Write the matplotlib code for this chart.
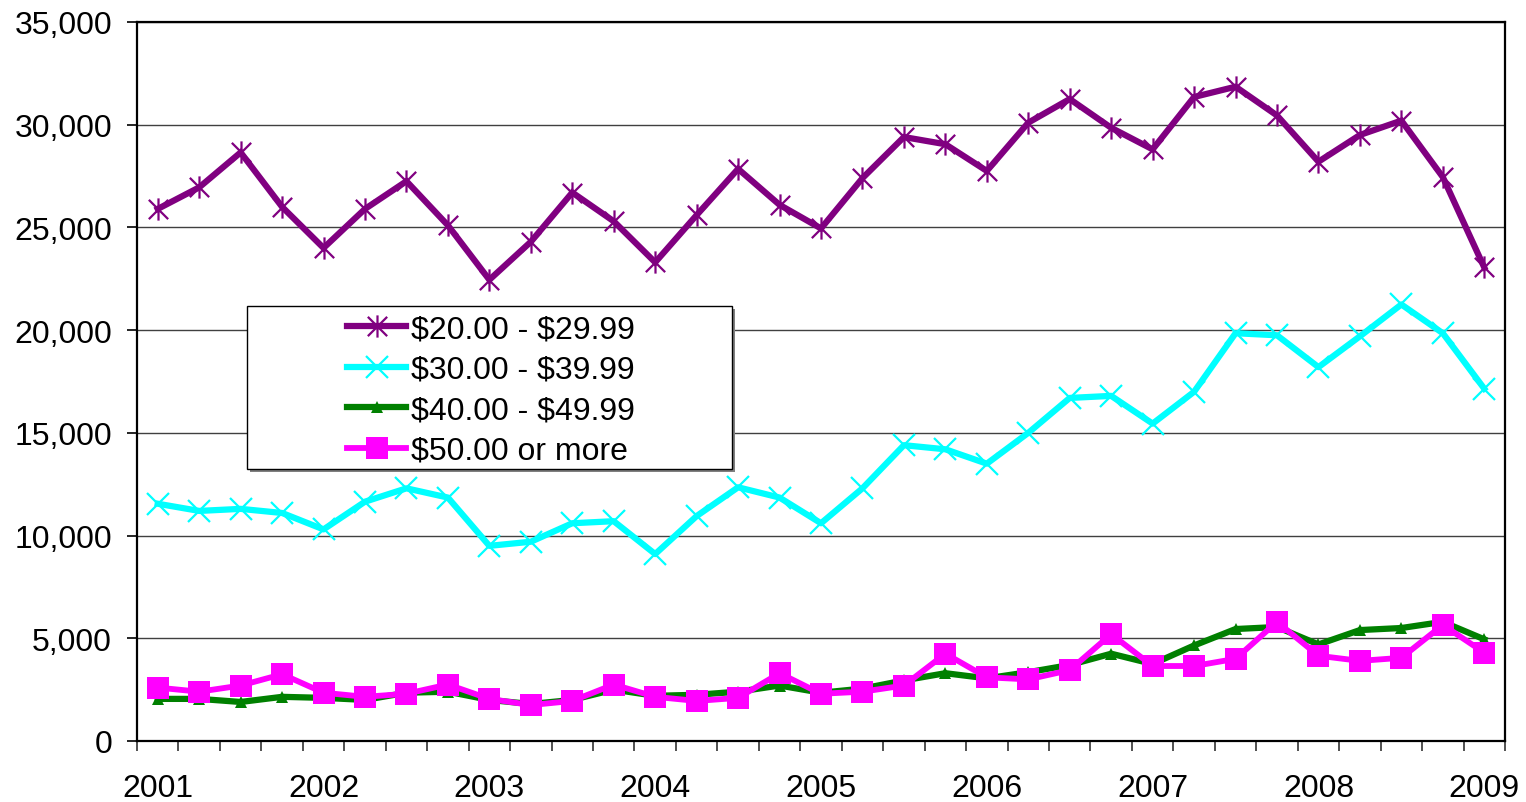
import matplotlib
matplotlib.use("Agg")
import matplotlib.pyplot as plt
from matplotlib.path import Path
from matplotlib.patches import Rectangle
from matplotlib.ticker import FuncFormatter, FixedLocator

plt.rcParams['font.family'] = ['Liberation Sans', 'DejaVu Sans']

years = ["2001", "2002", "2003", "2004", "2005", "2006", "2007", "2008", "2009"]

s20 = [25900, 26950, 28650, 26000, 24000, 25900, 27250, 25100, 22450, 24300,
       26700, 25300, 23300, 25600, 27850, 26100, 24950, 27400, 29400, 29050,
       27750, 30100, 31250, 29850, 28800, 31350, 31850, 30450, 28200, 29500,
       30200, 27450, 23050]
s30 = [11550, 11200, 11300, 11100, 10300, 11650, 12300, 11850, 9500, 9700,
       10600, 10700, 9100, 10950, 12350, 11850, 10600, 12300, 14400, 14200,
       13500, 15000, 16700, 16800, 15450, 17000, 19850, 19750, 18200, 19700,
       21250, 19850, 17150]
s40 = [2050, 2050, 1900, 2150, 2100, 2000, 2350, 2400, 2000, 1800,
       2000, 2500, 2200, 2250, 2400, 2700, 2350, 2550, 2950, 3300,
       3050, 3350, 3700, 4250, 3750, 4650, 5450, 5550, 4700, 5400,
       5500, 5800, 4950]
s50 = [2600, 2400, 2700, 3250, 2350, 2150, 2300, 2750, 2050, 1750,
       1950, 2750, 2150, 1950, 2100, 3300, 2300, 2400, 2700, 4250,
       3100, 3000, 3450, 5200, 3650, 3650, 4000, 5800, 4150, 3900,
       4050, 5650, 4300]

labels = [r"\$20.00 - \$29.99", r"\$30.00 - \$39.99", r"\$40.00 - \$49.99", r"\$50.00 or more"]

W, H = 1526, 803
fig = plt.figure(figsize=(W / 100, H / 100), dpi=100)
L, R, T, B = 137, 1505, 23, 742
ax = fig.add_axes([L / W, 1 - B / H, (R - L) / W, (B - T) / H])

x = list(range(len(s20)))

star = Path([(-1, -1), (1, 1), (-1, 1), (1, -1), (0, -1.15), (0, 1.15)],
            [Path.MOVETO, Path.LINETO, Path.MOVETO, Path.LINETO, Path.MOVETO, Path.LINETO])

ax.plot(x, s20, color='#800080', lw=4.5, marker=star, ms=16, mew=1.6,
        mec='#800080', label=labels[0], solid_joinstyle='miter', zorder=3)
ax.plot(x, s30, color='#00FFFF', lw=4.5, marker='x', ms=16, mew=1.6,
        mec='#00FFFF', label=labels[1], zorder=3)
ax.plot(x, s40, color='#008000', lw=4.5, marker='^', ms=9, mew=0,
        mfc='#008000', label=labels[2], zorder=3)
ax.plot(x, s50, color='#FF00FF', lw=4.2, marker='s', ms=16, mew=0,
        mfc='#FF00FF', label=labels[3], zorder=3)

ax.set_xlim(-0.5, len(x) - 0.5)
ax.set_ylim(0, 35000)

ax.yaxis.set_major_locator(FixedLocator(range(0, 35001, 5000)))
ax.yaxis.set_major_formatter(FuncFormatter(lambda v, p: f"{int(v):,}"))
ax.grid(axis='y', color='#404040', lw=1.0, zorder=1)
ax.set_axisbelow(True)

ax.set_xticks(range(0, len(x), 4))
ax.set_xticklabels(years)
ax.set_xticks([i - 0.5 for i in range(len(x) + 1)], minor=True)
ax.tick_params(axis='x', which='major', length=0, pad=23, labelsize=23)
ax.tick_params(axis='x', which='minor', length=7, width=1.2, direction='out', color='#333333')
ax.tick_params(axis='y', which='major', length=7, width=1.2, pad=11, labelsize=23, direction='out')

for s in ax.spines.values():
    s.set_color('black')
    s.set_linewidth(1.6)

# legend box with shadow
bx0, by0, bx1, by1 = 247, 307, 732, 470
def axc(px, py):
    return ((px - L) / (R - L), (B - py) / (B - T))
x0, y0 = axc(bx0, by1)
x1, y1 = axc(bx1, by0)
sh = 3
sx0, sy0 = axc(bx0 + sh, by1 + sh)
ax.add_patch(Rectangle((sx0, sy0), x1 - x0, y1 - y0, transform=ax.transAxes,
                       facecolor='#808080', edgecolor='none', zorder=4))
ax.add_patch(Rectangle((x0, y0), x1 - x0, y1 - y0, transform=ax.transAxes,
                       facecolor='white', edgecolor='black', lw=1.0, zorder=5))

hx, hy = axc(347, 391)
leg = ax.legend(loc='center left', bbox_to_anchor=(hx, hy), frameon=False,
                fontsize=23, handlelength=1.85, handletextpad=0.15,
                labelspacing=0.33, borderpad=0, borderaxespad=0)
leg.set_zorder(6)

fig.savefig("out.png", dpi=100)
